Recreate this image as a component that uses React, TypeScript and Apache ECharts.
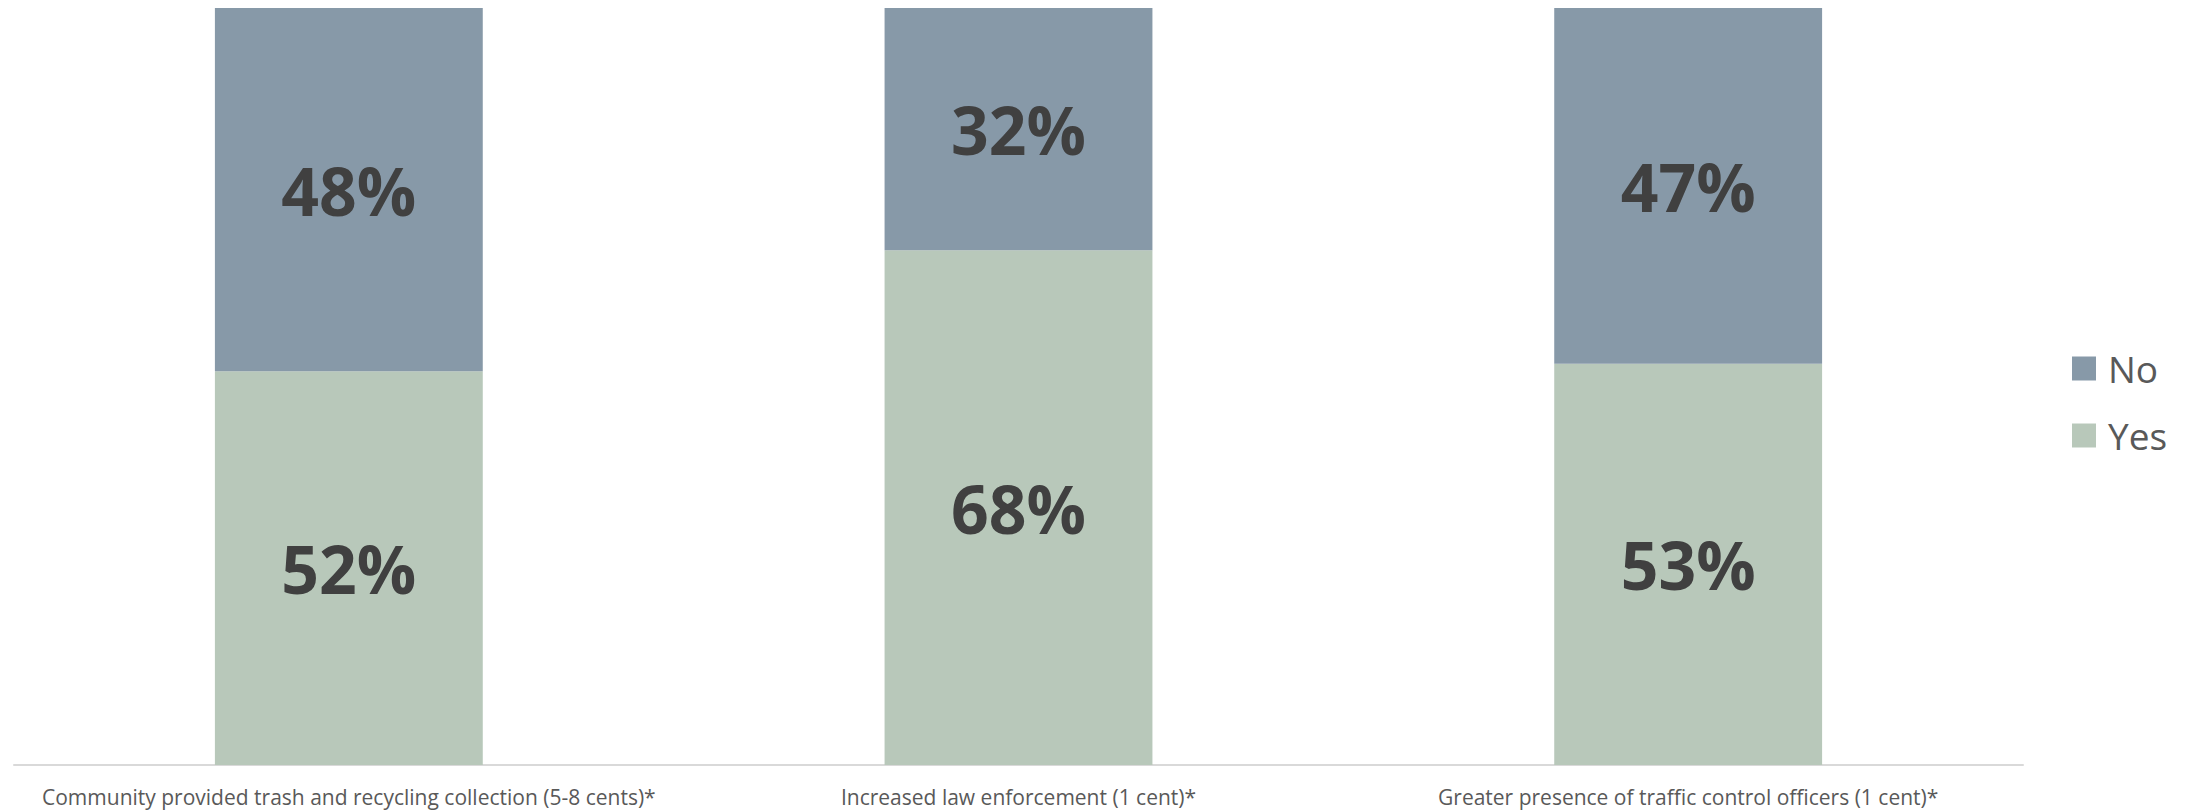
import React, { useEffect, useRef } from "react";
import * as echarts from "echarts";

const categories = [
  "Community provided trash and recycling collection (5-8 cents)*",
  "Increased law enforcement (1 cent)*",
  "Greater presence of traffic control officers (1 cent)*",
];
const yesValues = [52, 68, 53];
const noValues = [48, 32, 47];

export default function App() {
  const ref = useRef<HTMLDivElement>(null);
  useEffect(() => {
    if (!ref.current) return;
    const chart = echarts.init(ref.current, null, { renderer: "svg" });
    const labelStyle = {
      show: true,
      position: "inside",
      formatter: (p: any) => p.value + "%",
      fontFamily: "Open Sans",
      fontWeight: "bold",
      fontSize: 66,
      color: "#404040",
    };
    chart.setOption({
      animation: false,
      backgroundColor: "#ffffff",
      grid: { left: 14, right: 165, top: 8, bottom: 45, containLabel: false },
      legend: {
        orient: "vertical",
        left: 2067,
        top: 345,
        itemWidth: 24,
        itemHeight: 24,
        itemGap: 30,
        icon: "rect",
        data: ["No", "Yes"],
        textStyle: {
          fontFamily: "Open Sans",
          fontSize: 37,
          color: "#595959",
          padding: [0, 0, 0, 7],
        },
      },
      xAxis: {
        type: "category",
        data: categories,
        axisLine: { show: true, lineStyle: { color: "#d9d9d9", width: 2 } },
        axisTick: { show: false },
        axisLabel: {
          interval: 0,
          margin: 21,
          fontFamily: "Open Sans",
          fontSize: 21,
          color: "#595959",
        },
      },
      yAxis: {
        type: "value",
        min: 0,
        max: 100,
        show: false,
        splitLine: { show: false },
      },
      series: [
        {
          name: "Yes",
          type: "bar",
          stack: "total",
          data: yesValues,
          barWidth: "40%",
          itemStyle: { color: "#b8c8ba" },
          label: labelStyle,
        },
        {
          name: "No",
          type: "bar",
          stack: "total",
          data: noValues,
          barWidth: "40%",
          itemStyle: { color: "#8799a8" },
          label: labelStyle,
        },
      ],
    });
    return () => chart.dispose();
  }, []);
  return (
    <div
      ref={ref}
      style={{ position: "fixed", left: 0, top: 0, width: 2188, height: 810, background: "#fff" }}
    />
  );
}
